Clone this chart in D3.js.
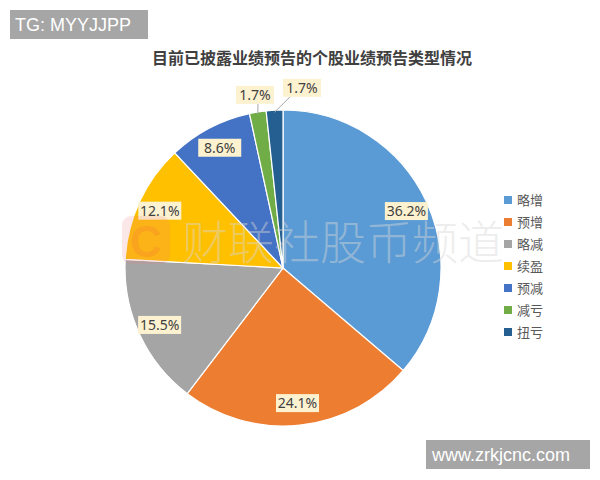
<!DOCTYPE html>
<html><head><meta charset="utf-8">
<script src="https://cdn.jsdelivr.net/npm/d3@7"></script>
<style>body{margin:0;background:#fff}svg{display:block}</style>
</head><body><svg id="c" width="600" height="480"></svg>
<script>
const categories = ["略增","预增","略减","续盈","预减","减亏","扭亏"];
const values = [36.2, 24.1, 15.5, 12.1, 8.6, 1.7, 1.7];
const labels = ["36.2%","24.1%","15.5%","12.1%","8.6%","1.7%","1.7%"];
const colors = ["#5b9bd5","#ed7d31","#a5a5a5","#ffc000","#4472c4","#70ad47","#255e91"];
const title = "目前已披露业绩预告的个股业绩预告类型情况";

const svg = d3.select("#c");
const cx = 283, cy = 268, R = 158;
const font = "'Noto Sans CJK SC','Microsoft YaHei',sans-serif";

svg.append("text").attr("x", 312).attr("y", 64).attr("text-anchor","middle")
  .attr("font-family", font).attr("font-weight","bold").attr("font-size",16)
  .attr("fill","#404040").text(title);

const pie = d3.pie().sort(null).value(d => d)(values);
const arc = d3.arc().innerRadius(0).outerRadius(R);
const g = svg.append("g").attr("transform", `translate(${cx},${cy})`);
g.selectAll("path.s").data(pie).join("path").attr("class","s")
  .attr("d", arc).attr("fill", (d,i) => colors[i])
  .attr("stroke","#fff").attr("stroke-width",1.2);

// watermark
const wm = svg.append("g");
wm.append("rect").attr("x",122).attr("y",216).attr("width",48).attr("height",48).attr("rx",9)
  .attr("fill","rgba(240,120,130,0.18)");
wm.append("text").attr("x",146).attr("y",257).attr("text-anchor","middle")
  .attr("font-family","'Liberation Sans',Arial,sans-serif").attr("font-weight","bold").attr("font-size",44)
  .attr("fill","rgba(240,110,60,0.22)").text("C");
wm.append("text").attr("x",343).attr("y",259).attr("text-anchor","middle")
  .attr("font-family",font).attr("font-size",46).attr("font-weight",300)
  .attr("fill","rgba(215,215,215,0.45)").text("财联社股币频道");

// labels
const midA = d => (d.startAngle + d.endAngle) / 2;
const lw = 43, lh = 18;
const pos = pie.map((d,i) => {
  const a = midA(d);
  const small = (d.endAngle - d.startAngle) < 0.2;
  const r = small ? R * 1.11 : R * 0.86;
  return {i, a, small, x: r*Math.sin(a), y: -r*Math.cos(a)};
});
// resolve overlaps among outside labels
const outs = pos.filter(p => p.small).sort((a,b) => a.x - b.x);
for (let k = 1; k < outs.length; k++) {
  const prev = outs[k-1], cur = outs[k];
  if (cur.x - prev.x < lw + 4) { cur.x = prev.x + lw + 4; cur.y -= 5; }
}
pos.filter(p => p.small).forEach(p => {
  const ex = R*Math.sin(p.a), ey = -R*Math.cos(p.a);
  g.append("line").attr("x1", p.x + (p.x < ex ? 3 : -12)).attr("y1", p.y + lh/2)
    .attr("x2", ex).attr("y2", ey + 2).attr("stroke","#a6a6a6").attr("stroke-width",1);
});
const lg = g.selectAll("g.lab").data(pos).join("g").attr("class","lab")
  .attr("transform", p => `translate(${p.x},${p.y})`);
lg.append("rect").attr("x", p => -(p.small ? 38 : lw)/2).attr("y",-lh/2)
  .attr("width", p => p.small ? 38 : lw).attr("height", lh).attr("fill","#fdf2d0");
lg.append("text").attr("text-anchor","middle").attr("dy","0.36em")
  .attr("font-family","'Noto Sans',sans-serif").attr("font-size",14).attr("fill","#404040")
  .text(p => labels[p.i]);

// legend
const ly = d3.scaleLinear().domain([0, 6]).range([200, 332]);
const leg = svg.append("g").selectAll("g").data(categories).join("g")
  .attr("transform", (d,i) => `translate(504,${ly(i)})`);
leg.append("rect").attr("x",0).attr("y",-4).attr("width",8).attr("height",8).attr("fill",(d,i)=>colors[i]);
leg.append("text").attr("x",13).attr("dy","0.36em").attr("font-family",font).attr("font-size",13)
  .attr("fill","#595959").text(d => d);

// overlay boxes
svg.append("rect").attr("x",10).attr("y",10).attr("width",138).attr("height",29).attr("fill","#a6a6a6");
svg.append("text").attr("x",15).attr("y",31).attr("font-family","'Liberation Sans',Arial,sans-serif")
  .attr("font-size",18).attr("fill","#fff").text("TG: MYYJJPP");
svg.append("rect").attr("x",426).attr("y",440).attr("width",164).attr("height",29).attr("fill","#a6a6a6");
svg.append("text").attr("x",432).attr("y",461).attr("font-family","'Liberation Sans',Arial,sans-serif")
  .attr("font-size",18).attr("fill","#fff").text("www.zrkjcnc.com");
</script></body></html>
